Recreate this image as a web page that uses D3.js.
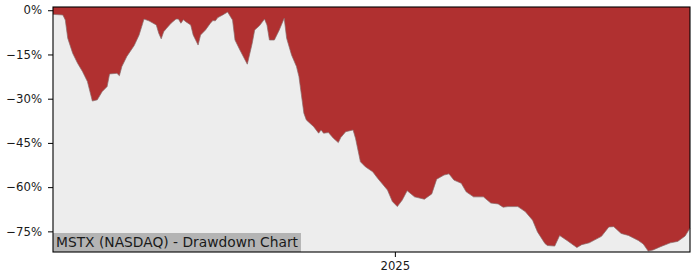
<!DOCTYPE html>
<html>
<head>
<meta charset="utf-8">
<script src="https://cdn.jsdelivr.net/npm/d3@7"></script>
<style>
  body { margin: 0; background: #fff; }
  text { font-family: "DejaVu Sans", sans-serif; }
</style>
</head>
<body>
<script>
const dates = [
  '2024-08-15','2024-08-19','2024-08-20','2024-08-21','2024-08-23','2024-08-25','2024-08-27','2024-08-29','2024-08-31',
  '2024-09-02','2024-09-04','2024-09-06','2024-09-07','2024-09-10','2024-09-11','2024-09-12','2024-09-14','2024-09-17',
  '2024-09-19','2024-09-21','2024-09-23','2024-09-26','2024-09-27','2024-09-28','2024-09-29','2024-09-30',
  '2024-10-02','2024-10-04','2024-10-05','2024-10-06','2024-10-07','2024-10-08','2024-10-10','2024-10-11','2024-10-13',
  '2024-10-14','2024-10-16','2024-10-18','2024-10-19','2024-10-20','2024-10-21','2024-10-23','2024-10-25','2024-10-27',
  '2024-10-28','2024-10-30',
  '2024-11-02','2024-11-04','2024-11-05','2024-11-07','2024-11-09','2024-11-10','2024-11-11','2024-11-13','2024-11-15',
  '2024-11-17','2024-11-18','2024-11-20','2024-11-22','2024-11-23','2024-11-24','2024-11-25','2024-11-26','2024-11-29',
  '2024-12-01','2024-12-02','2024-12-03','2024-12-05','2024-12-07','2024-12-09','2024-12-10','2024-12-12','2024-12-15',
  '2024-12-16','2024-12-18','2024-12-20','2024-12-23','2024-12-25','2024-12-29','2024-12-31',
  '2025-01-02','2025-01-04','2025-01-06','2025-01-09','2025-01-13','2025-01-16','2025-01-18','2025-01-21','2025-01-23',
  '2025-01-25','2025-01-28','2025-01-30',
  '2025-02-02','2025-02-06','2025-02-09','2025-02-12','2025-02-14','2025-02-16','2025-02-20','2025-02-23','2025-02-26',
  '2025-02-28',
  '2025-03-03','2025-03-04','2025-03-07','2025-03-09','2025-03-12','2025-03-16','2025-03-18','2025-03-21','2025-03-26',
  '2025-03-29','2025-03-31',
  '2025-04-03','2025-04-06','2025-04-10','2025-04-12','2025-04-14','2025-04-16','2025-04-19','2025-04-23','2025-04-26',
  '2025-04-29','2025-05-01'
];

// drawdown in percent
const drawdown = [
  -1.4,-1.6,-3.3,-9.5,-14.6,-18.0,-20.8,-24.2,-30.8,
  -30.4,-27.6,-25.9,-21.6,-21.4,-22.2,-19.1,-15.7,-12.0,
  -8.4,-3.0,-3.6,-5.0,-7.8,-9.7,-7.3,-6.3,
  -4.4,-3.0,-3.0,-4.4,-3.2,-3.9,-5.0,-8.4,-11.8,
  -8.4,-6.7,-4.4,-3.5,-3.6,-2.5,-1.6,-0.6,-3.3,
  -10.1,-13.5,
  -18.3,-11.2,-6.7,-5.2,-3.0,-5.0,-10.1,-10.1,-6.7,
  -2.7,-9.5,-15.2,-19.1,-22.5,-28.7,-34.9,-37.2,-39.5,
  -41.7,-40.6,-41.7,-41.5,-43.4,-44.9,-43.2,-41.2,-40.6,
  -43.4,-51.4,-53.1,-54.8,-57.0,-61.0,-64.9,
  -66.6,-64.4,-61.2,-63.3,-64.1,-62.3,-57.3,-55.9,-55.5,
  -57.6,-58.7,-61.6,
  -63.3,-63.3,-65.4,-65.7,-66.8,-66.6,-66.6,-68.3,-71.2,
  -75.2,
  -79.1,-79.8,-80.0,-76.4,-78.1,-80.5,-79.5,-78.9,-76.7,
  -73.5,-73.4,
  -75.7,-76.4,-78.1,-79.3,-81.7,-81.3,-80.2,-78.9,-78.4,
  -76.6,-73.9
];

const yTicks = [0, -15, -30, -45, -60, -75];
const xTicks = ['2025-01-01'];
const xTickLabels = ['2025'];
const yRange = [-82.0, 1.1];
const title = 'MSTX (NASDAQ) - Drawdown Chart';

const w = 700;
const h = 280;
const margin = {top: 7, right: 10, bottom: 28, left: 53};

const parse = d3.timeParse('%Y-%m-%d');
const data = dates.map((d, i) => ({date: parse(d), value: drawdown[i]}));

const x = d3.scaleTime()
  .domain(d3.extent(data, d => d.date))
  .range([margin.left, w - margin.right]);

const y = d3.scaleLinear()
  .domain(yRange)
  .range([h - margin.bottom, margin.top]);

const svg = d3.select('body').append('svg')
  .attr('width', w)
  .attr('height', h);

// plot background
svg.append('rect')
  .attr('x', margin.left)
  .attr('y', margin.top)
  .attr('width', w - margin.left - margin.right)
  .attr('height', h - margin.top - margin.bottom)
  .attr('fill', '#ededed');

// drawdown fill, from the top of the plot down to the curve
const area = d3.area()
  .x(d => x(d.date))
  .y0(y(yRange[1]))
  .y1(d => y(d.value));

svg.append('path')
  .datum(data)
  .attr('d', area)
  .attr('fill', '#b03030');

svg.append('path')
  .datum(data)
  .attr('d', d3.line().x(d => x(d.date)).y(d => y(d.value)))
  .attr('fill', 'none')
  .attr('stroke', '#8a6a6a')
  .attr('stroke-width', 0.7);

// title box
const label = svg.append('g');
const labelText = label.append('text')
  .attr('x', margin.left + 3)
  .attr('y', h - margin.bottom - 5.5)
  .attr('font-size', '13.8px')
  .attr('fill', '#1a1a1a')
  .text(title);
const tw = labelText.node().getComputedTextLength();
label.insert('rect', 'text')
  .attr('x', margin.left)
  .attr('y', h - margin.bottom - 19)
  .attr('width', tw + 6)
  .attr('height', 19)
  .attr('fill', '#b4b4b4');

// axes
const fmt = d => (d < 0 ? '\u2212' : '') + Math.abs(d) + '%';
const yAxis = d3.axisLeft(y).tickValues(yTicks).tickFormat(fmt).tickSize(5).tickPadding(6);
const gy = svg.append('g')
  .attr('transform', 'translate(' + margin.left + ',0)')
  .call(yAxis);

const xAxis = d3.axisBottom(x)
  .tickValues(xTicks.map(parse))
  .tickFormat((d, i) => xTickLabels[i])
  .tickSize(5).tickPadding(5);
const gx = svg.append('g')
  .attr('transform', 'translate(0,' + (h - margin.bottom) + ')')
  .call(xAxis);

[gx, gy].forEach(g => {
  g.select('.domain').remove();
  g.selectAll('text').attr('font-size', '11.7px').attr('fill', '#1a1a1a').attr('font-family', 'DejaVu Sans');
  g.selectAll('line').attr('stroke', '#000').attr('stroke-width', 1);
});

// frame
svg.append('rect')
  .attr('x', margin.left)
  .attr('y', margin.top)
  .attr('width', w - margin.left - margin.right)
  .attr('height', h - margin.top - margin.bottom)
  .attr('fill', 'none')
  .attr('stroke', '#000')
  .attr('stroke-width', 1.1);
</script>
</body>
</html>
